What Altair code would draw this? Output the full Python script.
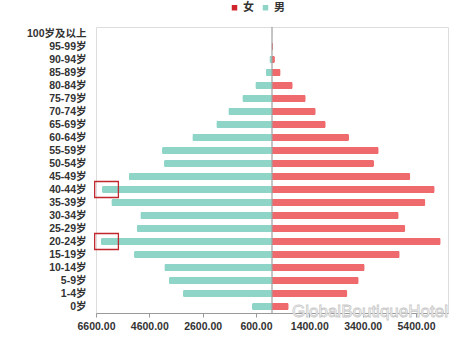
import altair as alt
import pandas as pd

ages = ["100岁及以上", "95-99岁", "90-94岁", "85-89岁", "80-84岁", "75-79岁", "70-74岁",
        "65-69岁", "60-64岁", "55-59岁", "50-54岁", "45-49岁", "40-44岁", "35-39岁",
        "30-34岁", "25-29岁", "20-24岁", "15-19岁", "10-14岁", "5-9岁", "1-4岁", "0岁"]
male = [5, 20, 100, 236, 626, 1114, 1639, 2089, 2989, 4125, 4050, 5374, 6375, 6026,
        4939, 5075, 6413, 5175, 4039, 3863, 3338, 750]
female = [10, 40, 110, 326, 776, 1264, 1639, 2014, 2888, 4000, 3825, 5188, 6100, 5750,
          4750, 5000, 6325, 4788, 3475, 3250, 2825, 626]
highlight = ["40-44岁", "20-24岁"]
hl_start = [-6650, -6650]
hl_end = [-5760, -5760]
x_ticks = [-6600, -4600, -2600, -600, 1400, 3400, 5400]

rows = []
for a, m, f in zip(ages, male, female):
    rows.append({"age": a, "sex": "男", "v": -m})
    rows.append({"age": a, "sex": "女", "v": f})
df = pd.DataFrame(rows)
hl = pd.DataFrame({"age": highlight, "x1": hl_start, "x2": hl_end})
zero = pd.DataFrame({"z": [0]})
leg = pd.DataFrame({"s": ["女", "男"], "z": [0, 0]})

font = "Liberation Sans, Noto Sans CJK SC"
W, H = 352, 286

xscale = alt.Scale(domain=[-6600, 6600], nice=False, zero=False)
yscale = alt.Scale(domain=ages)

bars = alt.Chart(df).mark_bar(height=7, cornerRadius=1.5).encode(
    x=alt.X("v:Q", scale=xscale, title=None,
            axis=alt.Axis(values=x_ticks, labelExpr="format(abs(datum.value), '.2f')",
                          grid=False, domainColor="#9a9a9a", tickColor="#9a9a9a",
                          tickSize=4, labelFont=font, labelFontSize=10.5, labelOverlap=False,
                          labelFlush=False, labelFontWeight="bold", labelColor="#333",
                          labelPadding=4)),
    y=alt.Y("age:N", scale=yscale, sort=ages, title=None,
            axis=alt.Axis(domain=False, ticks=False, labelFont=font, labelFontSize=10.5,
                          labelFontWeight="bold", labelColor="#333", labelPadding=10)),
    color=alt.Color("sex:N", scale=alt.Scale(domain=["女", "男"], range=["#ef6a6d", "#8ed5c8"]),
                    legend=None),
)

legend_layer = alt.Chart(leg).mark_square(opacity=0, size=10).encode(
    x=alt.X("z:Q", scale=xscale),
    color=alt.Color("s:N", scale=alt.Scale(domain=["女", "男"], range=["#d0242c", "#8ed5c8"]),
                    legend=alt.Legend(orient="none", direction="horizontal", legendX=133,
                                      legendY=-25, title=None, symbolType="square",
                                      symbolSize=30, symbolOpacity=1, symbolStrokeWidth=0,
                                      labelFont=font, labelFontSize=11, labelColor="#333",
                                      labelFontWeight="bold",
                                      columnPadding=6, labelOffset=3)),
)

rule = alt.Chart(zero).mark_rule(color="#a0a0a0", strokeWidth=1.2).encode(
    x=alt.X("z:Q", scale=xscale)
)

boxes = alt.Chart(hl).mark_bar(height=16, filled=False, stroke="#c0282e",
                               strokeWidth=1.3).encode(
    x=alt.X("x1:Q", scale=xscale),
    x2="x2:Q",
    y=alt.Y("age:N", scale=yscale, sort=ages),
)

wm = alt.Chart(zero).mark_text(text="GlobalBoutiqueHotel", font="Liberation Sans",
                               fontSize=17, fill="white", stroke="#c8c8c8",
                               strokeWidth=0.8, align="left").encode(
    x=alt.value(196), y=alt.value(285)
)

chart = alt.layer(bars, rule, boxes, legend_layer, wm).resolve_scale(
    color="independent"
).properties(
    width=W, height=H,
    autosize=alt.AutoSizeParams(type="none"),
    padding={"left": 96, "top": 27, "right": 459 - 96 - W, "bottom": 340 - 27 - H},
).configure_view(stroke=None).configure(background="white")

chart.save("out.html", embed_options={"renderer": "svg", "actions": False})
